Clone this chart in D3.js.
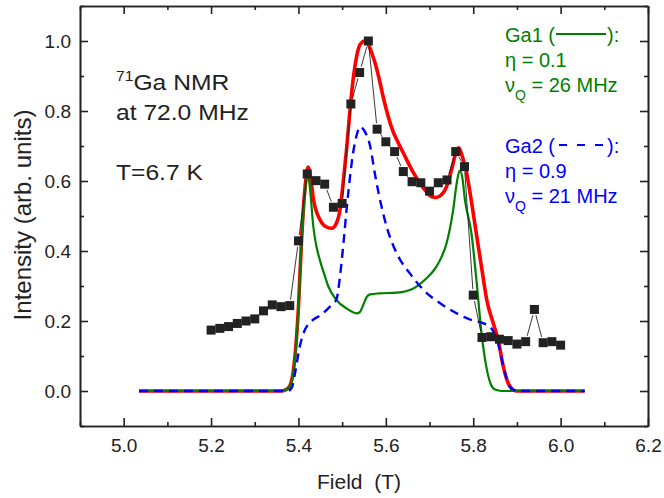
<!DOCTYPE html>
<html>
<head>
<meta charset="utf-8">
<script src="https://cdn.jsdelivr.net/npm/d3@7"></script>
<style>
  html, body { margin: 0; padding: 0; background: #fff; }
  svg text { font-family: "Liberation Sans", Arial, sans-serif; }
</style>
</head>
<body>
<svg id="chart" width="664" height="498"></svg>
<script>
// ---------- data ----------
const expField = [5.20,5.22,5.24,5.26,5.28,5.30,5.32,5.34,5.36,5.38,5.40,5.42,5.44,5.46,5.48,5.50,
                  5.52,5.54,5.56,5.58,5.60,5.62,5.64,5.66,5.68,5.70,5.72,5.74,5.76,5.78,
                  5.80,5.82,5.84,5.86,5.88,5.90,5.92,5.94,5.96,5.98,6.00];
const expIntensity = [0.174,0.179,0.184,0.193,0.200,0.206,0.229,0.246,0.241,0.244,0.429,0.620,0.601,0.591,0.525,0.536,
                      0.820,0.910,1.000,0.748,0.712,0.684,0.627,0.598,0.595,0.571,0.595,0.603,0.684,0.641,
                      0.274,0.153,0.155,0.148,0.144,0.134,0.141,0.233,0.138,0.141,0.131];

const totalField = [5.035,5.36,5.37,5.38,5.39,5.40,5.407,5.415,5.422,5.428,5.434,5.449,5.462,5.476,5.487,5.495,5.503,5.51,5.518,5.525,5.533,5.541,5.552,5.56,5.568,5.577,5.586,5.594,5.602,5.61,5.617,5.628,5.64,5.663,5.68,5.693,5.705,5.715,5.725,5.739,5.752,5.76,5.767,5.775,5.785,5.80,5.812,5.822,5.831,5.846,5.857,5.869,5.88,5.892,5.90,6.055];
const totalFit   = [0,0,0.003,0.014,0.075,0.24,0.43,0.58,0.64,0.61,0.55,0.49,0.47,0.465,0.48,0.517,0.603,0.69,0.803,0.889,0.955,0.99,1.0,0.99,0.965,0.93,0.885,0.84,0.80,0.765,0.74,0.71,0.68,0.624,0.59,0.569,0.555,0.553,0.558,0.584,0.64,0.68,0.695,0.67,0.622,0.508,0.41,0.33,0.26,0.193,0.146,0.069,0.022,0.003,0,0];

const ga1Field = [5.035,5.36,5.37,5.38,5.39,5.40,5.407,5.415,5.421,5.427,5.434,5.44,5.449,5.46,5.468,5.487,5.51,5.533,5.54,5.548,5.556,5.564,5.586,5.625,5.663,5.693,5.71,5.724,5.739,5.754,5.763,5.769,5.775,5.781,5.796,5.808,5.819,5.83,5.84,5.85,5.865,6.055];
const ga1Fit   = [0,0,0.003,0.012,0.07,0.231,0.42,0.565,0.625,0.57,0.47,0.42,0.374,0.33,0.30,0.26,0.236,0.222,0.225,0.245,0.268,0.276,0.279,0.281,0.293,0.322,0.345,0.374,0.422,0.517,0.60,0.63,0.61,0.546,0.45,0.308,0.165,0.069,0.02,0.004,0,0];

const ga2Field = [5.035,5.375,5.385,5.392,5.403,5.413,5.422,5.435,5.449,5.472,5.487,5.495,5.503,5.51,5.518,5.525,5.533,5.541,5.55,5.564,5.575,5.586,5.602,5.625,5.655,5.686,5.731,5.785,5.838,5.848,5.857,5.869,5.884,5.896,5.905,6.055];
const ga2Fit   = [0,0,0.01,0.05,0.127,0.17,0.19,0.205,0.215,0.241,0.262,0.327,0.422,0.517,0.612,0.68,0.73,0.755,0.745,0.70,0.62,0.55,0.469,0.393,0.336,0.289,0.245,0.208,0.184,0.165,0.136,0.069,0.012,0.001,0,0];

const xMajorTicks = [5.0,5.2,5.4,5.6,5.8,6.0,6.2];
const xMinorTicks = [4.9,5.1,5.3,5.5,5.7,5.9,6.1];
const yMajorTicks = [0.0,0.2,0.4,0.6,0.8,1.0];
const yMinorTicks = [-0.1,0.1,0.3,0.5,0.7,0.9,1.1];

// ---------- layout ----------
const svg = d3.select("#chart");
const L = 80, R = 648, T = 6, B = 426;
const x = d3.scaleLinear().domain([4.9, 6.2]).range([L, R]);
const y = d3.scaleLinear().domain([-0.1, 1.1]).range([B, T]);
const axisColor = "#222";
const SX = 1.12; // horizontal stretch of the original lettering

// ---------- curves ----------
function curve(fields, vals) {
  return d3.line().x((d, i) => x(fields[i])).y((d, i) => y(vals[i])).curve(d3.curveMonotoneX)(vals);
}
svg.append("path").attr("d", curve(totalField, totalFit))
  .attr("fill", "none").attr("stroke", "#ff0000").attr("stroke-width", 3.6).attr("stroke-linejoin", "round");
svg.append("path").attr("d", curve(ga1Field, ga1Fit))
  .attr("fill", "none").attr("stroke", "#008000").attr("stroke-width", 2.2);
svg.append("path").attr("d", curve(ga2Field, ga2Fit))
  .attr("fill", "none").attr("stroke", "#0000ff").attr("stroke-width", 2.4).attr("stroke-dasharray", "9,6");

// ---------- experimental data: line with gaps + squares ----------
const pts = expField.map((f, i) => [x(f), y(expIntensity[i])]);
const gap = 6;
const segs = [];
for (let i = 0; i < pts.length - 1; i++) {
  const [x0, y0] = pts[i], [x1, y1] = pts[i + 1];
  const dx = x1 - x0, dy = y1 - y0, len = Math.hypot(dx, dy);
  if (len > 2 * gap + 1) {
    const ux = dx / len, uy = dy / len;
    segs.push([x0 + ux * gap, y0 + uy * gap, x1 - ux * gap, y1 - uy * gap]);
  }
}
svg.append("g").selectAll("line").data(segs).join("line")
  .attr("x1", d => d[0]).attr("y1", d => d[1]).attr("x2", d => d[2]).attr("y2", d => d[3])
  .attr("stroke", "#222").attr("stroke-width", 0.9);
const sq = 9;
svg.append("g").selectAll("rect").data(expField).join("rect")
  .attr("x", (d) => x(d) - sq / 2).attr("y", (d, i) => y(expIntensity[i]) - sq / 2)
  .attr("width", sq).attr("height", sq).attr("fill", "#222");

// ---------- axes (frame with inward ticks) ----------
function styleAxis(g) {
  g.selectAll("path,line").attr("stroke", axisColor).attr("stroke-width", 1.6);
  g.selectAll("text").attr("fill", "#222").attr("font-size", 19)
    .attr("font-family", '"Liberation Sans", Arial, sans-serif');
}
const fmt = d3.format(".1f");
svg.append("g").attr("transform", `translate(0,${B})`)
  .call(d3.axisBottom(x).tickValues(xMajorTicks).tickSize(-8).tickSizeOuter(0).tickPadding(13).tickFormat(fmt))
  .call(styleAxis);
svg.append("g").attr("transform", `translate(0,${B})`)
  .call(d3.axisBottom(x).tickValues(xMinorTicks).tickSize(-4).tickSizeOuter(0).tickFormat(""))
  .call(styleAxis);
svg.append("g").attr("transform", `translate(0,${T})`)
  .call(d3.axisTop(x).tickValues(xMajorTicks).tickSize(-8).tickSizeOuter(0).tickFormat(""))
  .call(styleAxis);
svg.append("g").attr("transform", `translate(0,${T})`)
  .call(d3.axisTop(x).tickValues(xMinorTicks).tickSize(-4).tickSizeOuter(0).tickFormat(""))
  .call(styleAxis);
svg.append("g").attr("transform", `translate(${L},0)`)
  .call(d3.axisLeft(y).tickValues(yMajorTicks).tickSize(-8).tickSizeOuter(0).tickPadding(9).tickFormat(fmt))
  .call(styleAxis);
svg.append("g").attr("transform", `translate(${L},0)`)
  .call(d3.axisLeft(y).tickValues(yMinorTicks).tickSize(-4).tickSizeOuter(0).tickFormat(""))
  .call(styleAxis);
svg.append("g").attr("transform", `translate(${R},0)`)
  .call(d3.axisRight(y).tickValues(yMajorTicks).tickSize(-8).tickSizeOuter(0).tickFormat(""))
  .call(styleAxis);
svg.append("g").attr("transform", `translate(${R},0)`)
  .call(d3.axisRight(y).tickValues(yMinorTicks).tickSize(-4).tickSizeOuter(0).tickFormat(""))
  .call(styleAxis);

// ---------- axis titles ----------
svg.append("text").attr("x", 359).attr("y", 489).attr("text-anchor", "middle")
  .attr("font-size", 21).attr("fill", "#222").text("Field  (T)").style("white-space", "pre");
svg.append("text").attr("transform", "translate(31,215) rotate(-90)").attr("text-anchor", "middle")
  .attr("font-size", 24).attr("fill", "#222").text("Intensity (arb. units)");

// ---------- annotations ----------
function stretched(parent, x0, y0) {
  return parent.append("text").attr("transform", `translate(${x0},${y0}) scale(${SX},1)`);
}
const ann = svg.append("g").attr("fill", "#222").attr("font-size", 22);
const t1 = stretched(ann, 116, 90);
t1.append("tspan").attr("font-size", 14).attr("dy", -9).text("71");
t1.append("tspan").attr("dy", 9).text("Ga NMR");
stretched(ann, 116, 120).text("at 72.0 MHz");
stretched(ann, 116, 180).text("T=6.7 K");

function legendBlock(color, y0, label, eta, nu, dashed) {
  const g = svg.append("g").attr("fill", color).attr("font-size", 20);
  const a = g.append("text").attr("x", 505).attr("y", y0).text(label + " (");
  const w = a.node().getComputedTextLength();
  const lx0 = 505 + w + 1, lx1 = lx0 + 50;
  const ln = g.append("line").attr("x1", dashed ? lx0 + 3 : lx0).attr("x2", lx1)
    .attr("y1", y0 - 8).attr("y2", y0 - 8).attr("stroke", color).attr("stroke-width", 2);
  if (dashed) ln.attr("stroke-dasharray", "8,10");
  g.append("text").attr("x", lx1 + 1).attr("y", y0).text("):");
  g.append("text").attr("x", 505).attr("y", y0 + 25).text("η = " + eta);
  const n = g.append("text").attr("x", 505).attr("y", y0 + 50);
  n.append("tspan").text("ν");
  n.append("tspan").attr("font-size", 14).attr("dy", 8).text("Q");
  n.append("tspan").attr("dy", -8).text(" = " + nu + " MHz");
}
legendBlock("#008000", 42, "Ga1", "0.1", "26", false);
legendBlock("#0000ff", 153, "Ga2", "0.9", "21", true);
</script>
</body>
</html>
